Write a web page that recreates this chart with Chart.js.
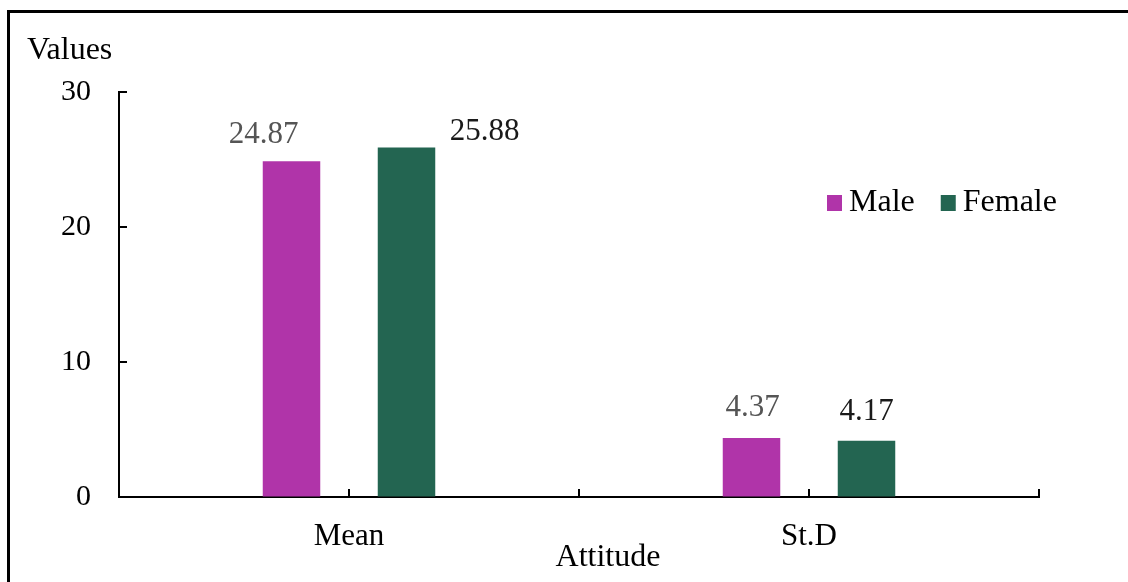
<!DOCTYPE html>
<html>
<head>
<meta charset="utf-8">
<script src="https://cdn.jsdelivr.net/npm/chart.js@4/dist/chart.umd.min.js"></script>
<style>
  html, body { margin: 0; padding: 0; background: #fff; overflow: hidden; }
  #wrap { position: relative; width: 1128px; height: 582px; }
  /* outer frame: only the top and left edges are visible in the picture */
  #frame {
    position: absolute; left: 7px; top: 10px; width: 1200px; height: 700px;
    border-left: 3px solid #000; border-top: 3px solid #000;
  }
  #chart { position: absolute; left: 0; top: 0; }
</style>
</head>
<body>
<div id="wrap">
  <div id="frame"></div>
  <canvas id="chart" width="1128" height="582"></canvas>
</div>
<script>
// ---- data ----
const categories = ['Mean', 'St.D'];
const seriesNames = ['Male', 'Female'];
const maleValues = [24.87, 4.37];
const femaleValues = [25.88, 4.17];
const yTicks = [0, 10, 20, 30];

const FONT = '"Liberation Serif", "Times New Roman", serif';
const COLORS = ['#B034A9', '#236551'];

/**
 * Inward tick marks on both axes, drawn from the scales.
 */
const innerTicks = {
    id: 'innerTicks',
    afterDraw(chart) {
        const { ctx, chartArea, scales } = chart;
        const len = 8;
        ctx.save();
        ctx.strokeStyle = '#000';
        ctx.lineWidth = 2;
        // y ticks point right, into the plot
        scales.y.ticks.forEach((t) => {
            const y = Math.round(scales.y.getPixelForValue(t.value));
            ctx.beginPath();
            ctx.moveTo(chartArea.left, y);
            ctx.lineTo(chartArea.left + len, y);
            ctx.stroke();
        });
        // x ticks at category centres and category boundaries, pointing up
        const n = categories.length;
        const step = scales.x.getPixelForValue(1) - scales.x.getPixelForValue(0);
        const xs = [];
        for (let i = 0; i < n; i++) {
            xs.push(scales.x.getPixelForValue(i));
            xs.push(scales.x.getPixelForValue(i) + step / 2);
        }
        xs.forEach((x) => {
            ctx.beginPath();
            ctx.moveTo(Math.round(x), chartArea.bottom);
            ctx.lineTo(Math.round(x), chartArea.bottom - len);
            ctx.stroke();
        });
        ctx.restore();
    }
};

/**
 * Value labels above bars, with per-point nudges as in the reference.
 */
const valueLabels = {
    id: 'valueLabels',
    afterDatasetsDraw(chart, args, opts) {
        const { ctx } = chart;
        ctx.save();
        ctx.font = '31px ' + FONT;
        ctx.textAlign = 'center';
        ctx.textBaseline = 'middle';
        chart.data.datasets.forEach((ds, di) => {
            const meta = chart.getDatasetMeta(di);
            meta.data.forEach((bar, i) => {
                const off = opts.offsets[di][i];
                ctx.fillStyle = opts.colors[di];
                ctx.fillText(ds.data[i].toFixed(2), bar.x + off[0], bar.y + off[1]);
            });
        });
        ctx.restore();
    }
};

/**
 * Axis titles and legend drawn as plain text in the places the reference uses.
 */
const extras = {
    id: 'extras',
    afterDraw(chart) {
        const { ctx, chartArea } = chart;
        ctx.save();
        ctx.font = '32px ' + FONT;
        ctx.fillStyle = '#000';
        ctx.textBaseline = 'middle';
        ctx.textAlign = 'left';
        ctx.fillText('Values', 27, 51);
        ctx.textAlign = 'center';
        ctx.fillText('Attitude', (chartArea.left + chartArea.right) / 2 + 29, 558);

        // legend
        let x = 827;
        const y = 203;
        ctx.textAlign = 'left';
        chart.data.datasets.forEach((ds) => {
            ctx.fillStyle = ds.backgroundColor;
            ctx.fillRect(x, y - 8, 15, 16);
            ctx.fillStyle = '#000';
            ctx.fillText(ds.label, x + 22, y);
            x += 22 + ctx.measureText(ds.label).width + 26;
        });
        ctx.restore();
    }
};

new Chart(document.getElementById('chart'), {
    type: 'bar',
    data: {
        labels: categories,
        datasets: [
            { label: seriesNames[0], data: maleValues, backgroundColor: COLORS[0] },
            { label: seriesNames[1], data: femaleValues, backgroundColor: COLORS[1] }
        ]
    },
    options: {
        responsive: false,
        animation: false,
        events: [],
        layout: { padding: { top: 92, right: 89, left: 0, bottom: 0 } },
        datasets: { bar: { categoryPercentage: 0.5, barPercentage: 0.5 } },
        scales: {
            x: {
                grid: { display: true, drawOnChartArea: false, drawTicks: false },
                border: { color: '#000', width: 2 },
                ticks: { color: '#000', font: { family: FONT, size: 31 }, padding: 21 },
                afterFit(scale) { scale.height = 85; }
            },
            y: {
                min: 0,
                max: 30,
                afterBuildTicks(scale) { scale.ticks = yTicks.map((v) => ({ value: v })); },
                grid: { display: true, drawOnChartArea: false, drawTicks: false },
                border: { color: '#000', width: 2 },
                ticks: { color: '#000', font: { family: FONT, size: 30 }, padding: 28 },
                afterFit(scale) { scale.width = 119; }
            }
        },
        plugins: {
            legend: { display: false },
            tooltip: { enabled: false },
            valueLabels: {
                colors: ['#555555', '#1a1a1a'],
                offsets: [
                    [[-28, -26], [1, -30]],
                    [[78, -16], [0, -29]]
                ]
            }
        }
    },
    plugins: [valueLabels, innerTicks, extras]
});
</script>
</body>
</html>
